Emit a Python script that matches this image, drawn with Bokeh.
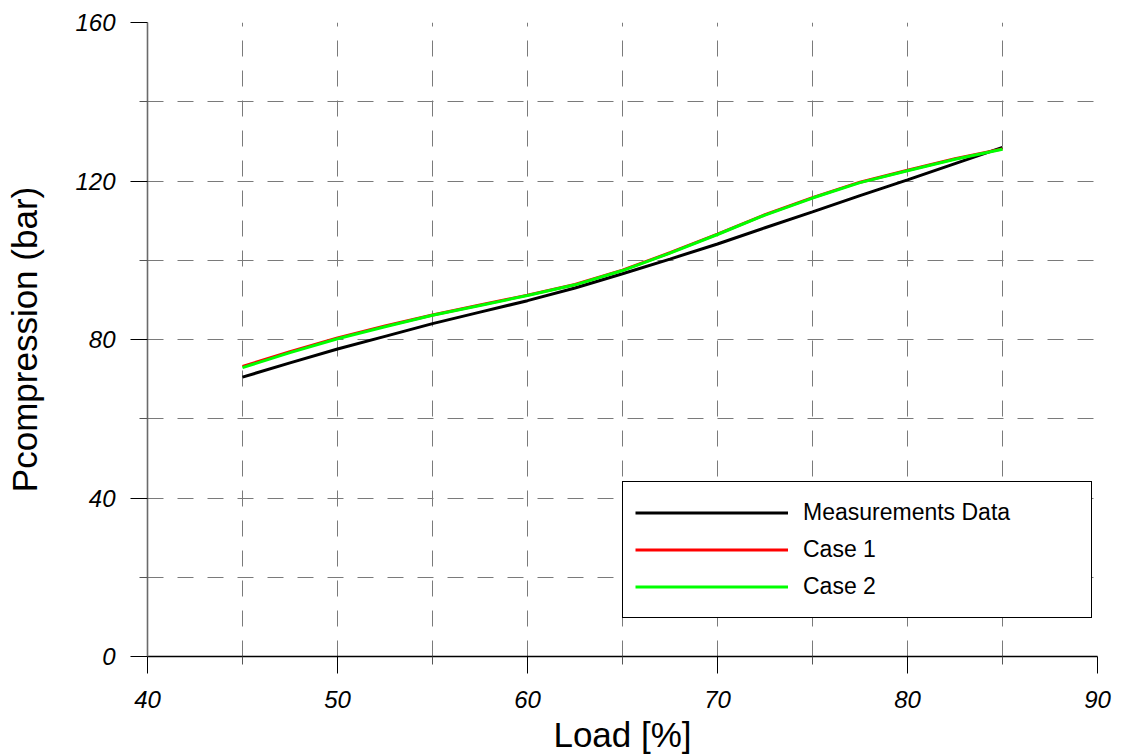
from bokeh.plotting import figure
from bokeh.models import FixedTicker, Legend, LegendItem
from bokeh.embed import file_html
from bokeh.resources import INLINE

# ---- data ----
load = [45, 47.5, 50, 52.5, 55, 57.5, 60, 62.5, 65, 67.5, 70, 72.5, 75, 77.5, 80, 82.5, 85]
measured = [70.5, 74.1, 77.6, 80.8, 84.0, 86.9, 89.8, 93.0, 96.6, 100.3, 104.1, 108.2, 112.2, 116.3, 120.3, 124.4, 128.5]
case1 = [73.2, 76.9, 80.4, 83.4, 86.2, 88.7, 91.2, 93.9, 97.5, 101.9, 106.6, 111.5, 115.8, 119.7, 122.7, 125.6, 128.1]
case2 = [72.9, 76.7, 80.2, 83.2, 86.1, 88.6, 91.1, 93.8, 97.4, 101.8, 106.5, 111.4, 115.7, 119.6, 122.6, 125.5, 128.0]

x_major = [40, 50, 60, 70, 80, 90]
x_minor = [45, 55, 65, 75, 85]
y_major = [0, 40, 80, 120, 160]
y_minor = [20, 60, 100, 140]

FONT = "Liberation Sans"

p = figure(width=1121, height=756, x_range=(40, 90), y_range=(0, 160),
           output_backend="svg", toolbar_location=None,
           min_border_left=147, min_border_right=24, min_border_top=22, min_border_bottom=100)
p.outline_line_color = None
p.background_fill_color = "white"
p.border_fill_color = "white"

p.xaxis.ticker = FixedTicker(ticks=x_major, minor_ticks=x_minor)
p.yaxis.ticker = FixedTicker(ticks=y_major, minor_ticks=y_minor)

for ax in (p.xaxis[0], p.yaxis[0]):
    ax.major_label_text_font = FONT
    ax.major_label_text_font_style = "italic"
    ax.major_label_text_font_size = "24px"
    ax.major_label_text_color = "black"
    ax.axis_label_text_font = FONT
    ax.axis_label_text_font_style = "normal"
    ax.axis_label_text_font_size = "35px"
    ax.axis_label_text_color = "black"
    ax.major_tick_in = 0
    ax.major_tick_out = 17
    ax.minor_tick_in = 0
    ax.minor_tick_out = 8
    ax.major_tick_line_color = "black"
    ax.minor_tick_line_color = "#555555"

p.xaxis.axis_label = "Load [%]"
p.yaxis.axis_label = "Pcompression (bar)"
p.xaxis.axis_line_color = "black"
p.xaxis.axis_line_width = 1.3
p.yaxis.axis_line_color = "#6a6a6a"
p.yaxis.axis_line_width = 1.6
p.xaxis.major_label_standoff = 17
p.xaxis.axis_label_standoff = 4
p.yaxis.major_label_standoff = 15
p.yaxis.axis_label_standoff = 28

for g in (p.xgrid[0], p.ygrid[0]):
    g.grid_line_color = "#7a7a7a"
    g.grid_line_dash = "16 14"
    g.grid_line_width = 1
    g.minor_grid_line_color = "#7a7a7a"
    g.minor_grid_line_dash = "16 14"
    g.minor_grid_line_width = 1

r0 = p.line(load, measured, line_color="black", line_width=3)
r1 = p.line(load, case1, line_color="#ff0000", line_width=3)
r2 = p.line(load, case2, line_color="#00ff00", line_width=3)

legend = Legend(items=[LegendItem(label="Measurements Data", renderers=[r0]),
                       LegendItem(label="Case 1", renderers=[r1]),
                       LegendItem(label="Case 2", renderers=[r2])],
                location=(475, 38), orientation="vertical")
legend.label_text_font = FONT
legend.label_text_font_size = "23px"
legend.label_text_color = "black"
legend.glyph_width = 153
legend.glyph_height = 37
legend.label_height = 37
legend.label_width = 276
legend.label_standoff = 15
legend.spacing = 0
legend.padding = 12
legend.margin = 0
legend.border_line_color = "black"
legend.border_line_alpha = 1.0
legend.border_line_width = 1.5
legend.background_fill_color = "white"
legend.background_fill_alpha = 1.0
p.add_layout(legend, "center")

open("out.html", "w").write(file_html(p, INLINE))
